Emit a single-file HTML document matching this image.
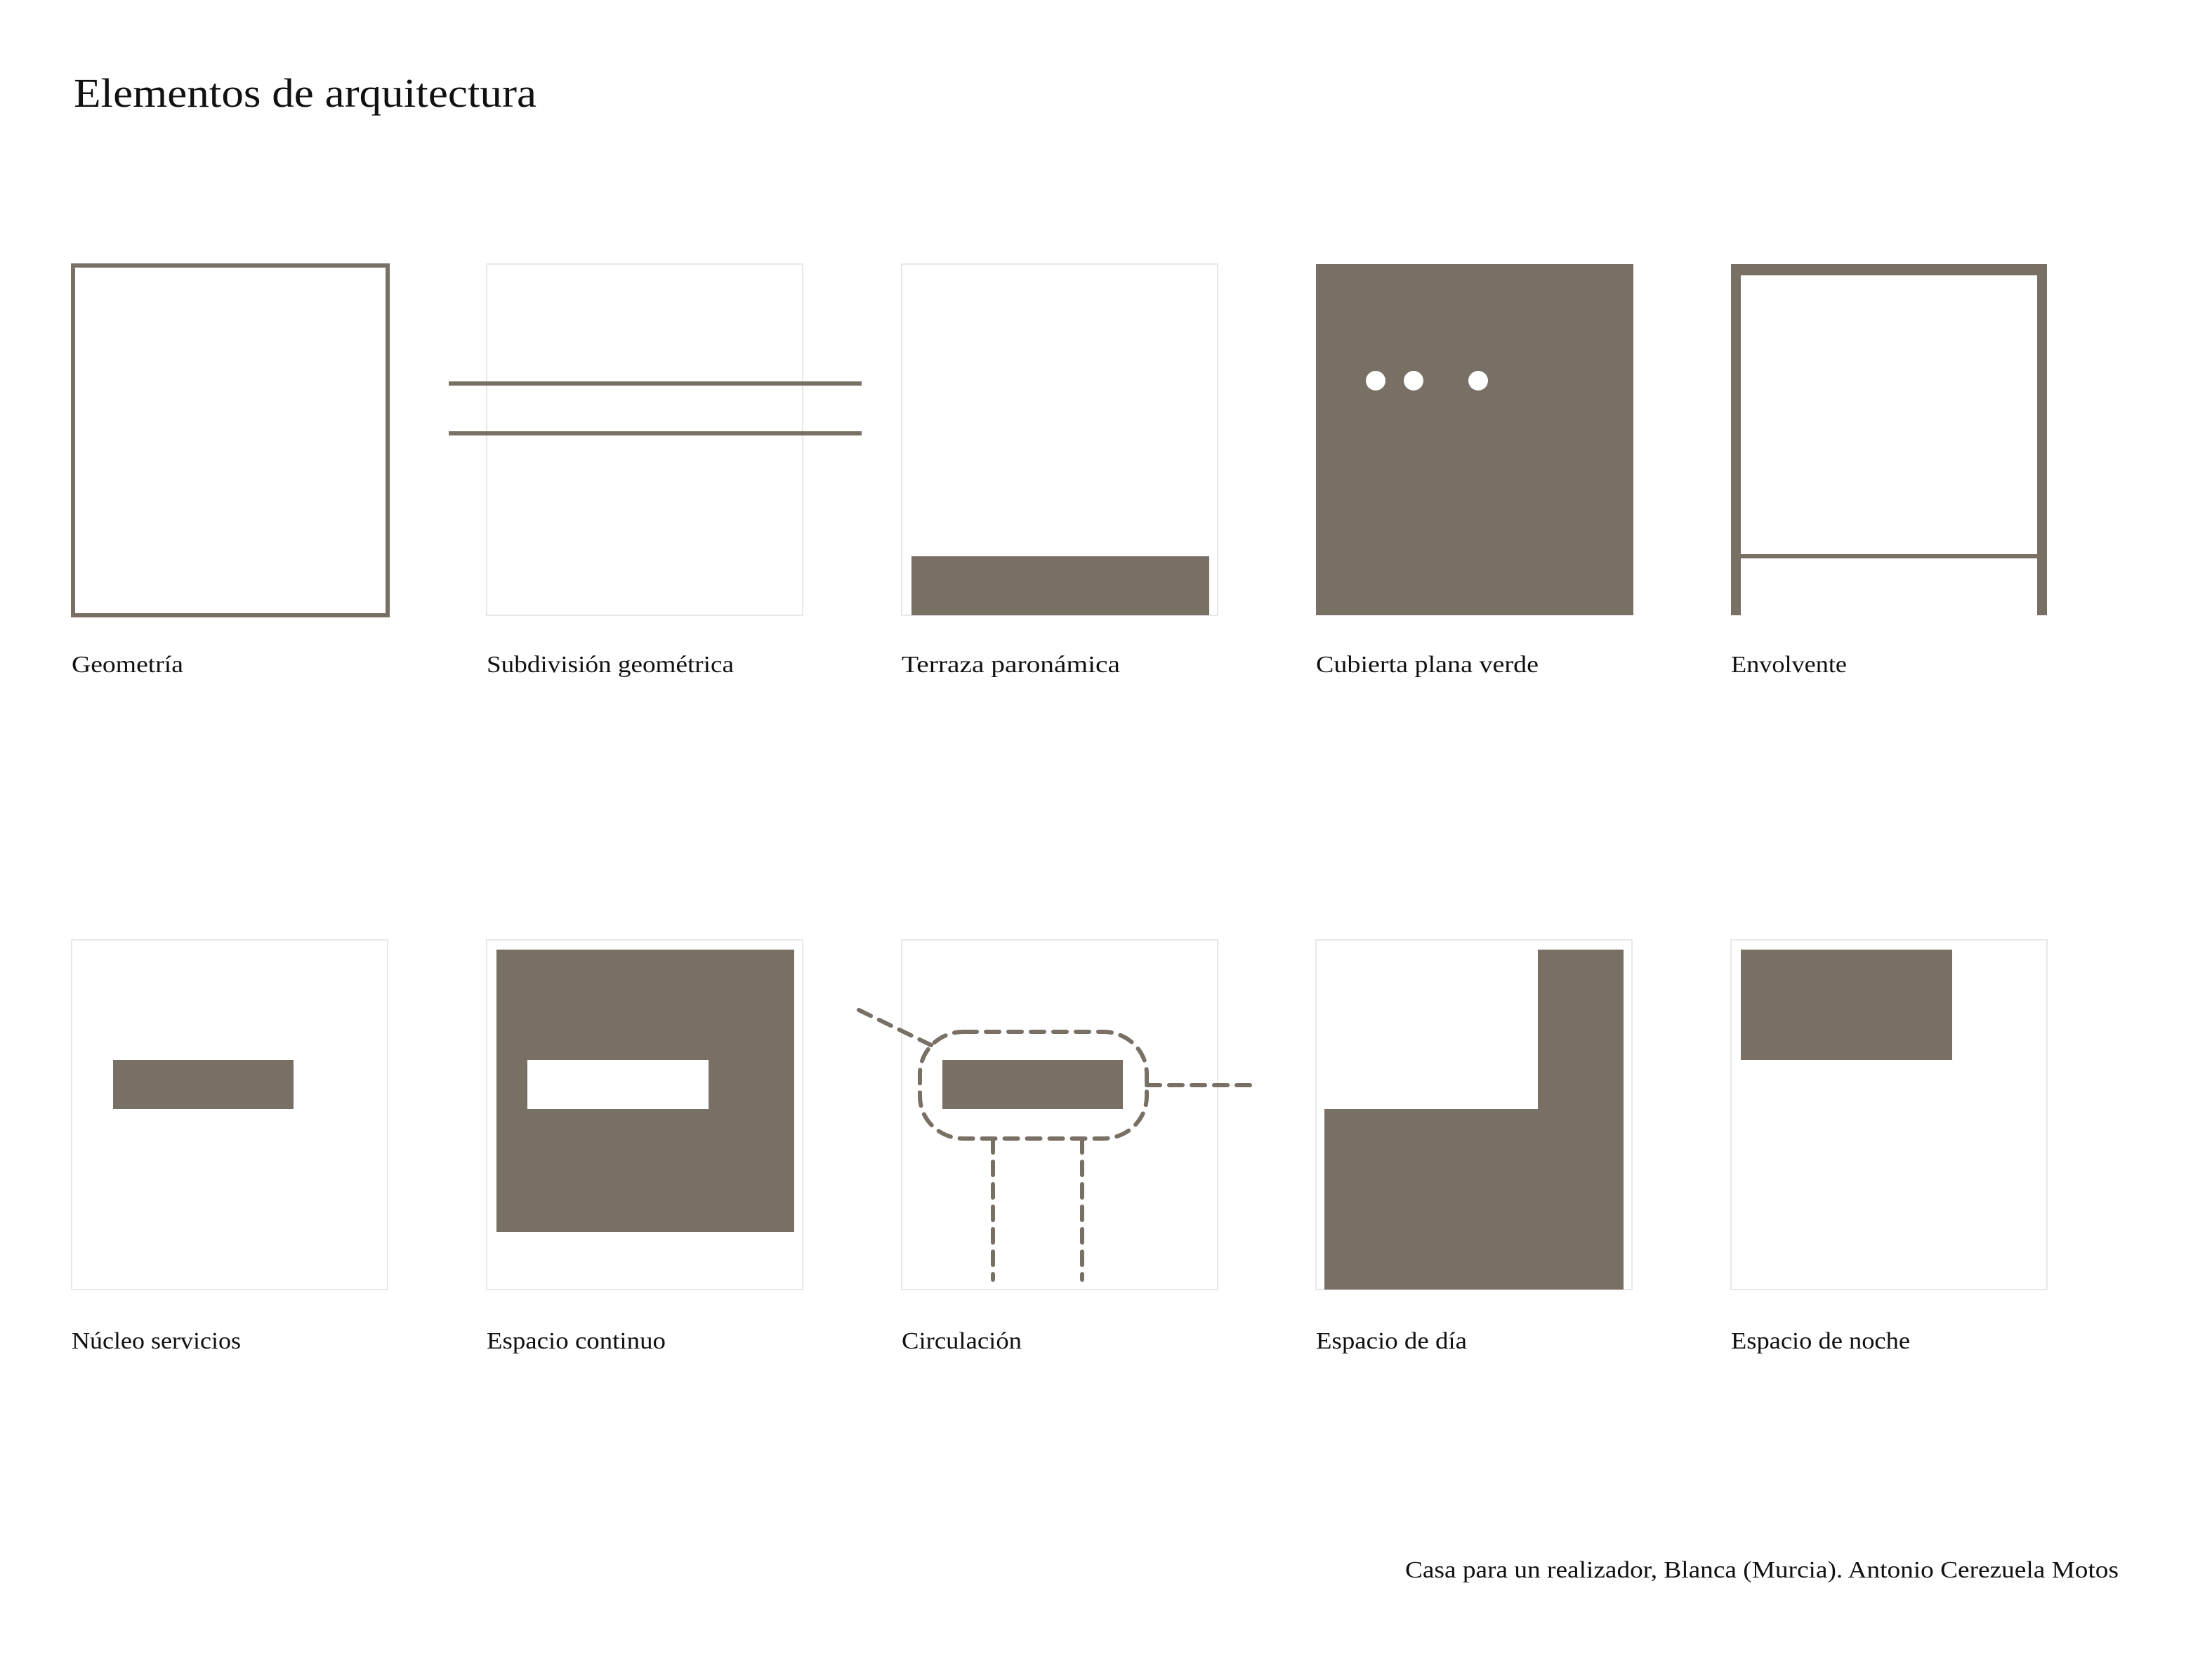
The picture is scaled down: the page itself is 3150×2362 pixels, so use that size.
<!DOCTYPE html>
<html><head><meta charset="utf-8"><style>
html,body{margin:0;padding:0;background:#fff;}
body{width:3150px;height:2362px;position:relative;overflow:hidden;font-family:"Liberation Serif","DejaVu Serif",serif;color:#111;}
</style></head><body>
<svg width="3150" height="2362" viewBox="0 0 3150 2362" xmlns="http://www.w3.org/2000/svg" style="position:absolute;left:0;top:0">
<g font-family="Liberation Serif, DejaVu Serif, serif" fill="#111">
<text x="105" y="152" font-size="58" textLength="659" lengthAdjust="spacingAndGlyphs">Elementos de arquitectura</text>
<g font-size="34">
<text x="102" y="957" textLength="159" lengthAdjust="spacingAndGlyphs">Geometría</text>
<text x="693" y="957" textLength="352" lengthAdjust="spacingAndGlyphs">Subdivisión geométrica</text>
<text x="1284" y="957" textLength="311" lengthAdjust="spacingAndGlyphs">Terraza paronámica</text>
<text x="1874" y="957" textLength="317" lengthAdjust="spacingAndGlyphs">Cubierta plana verde</text>
<text x="2465" y="957" textLength="165" lengthAdjust="spacingAndGlyphs">Envolvente</text>
<text x="102" y="1920" textLength="241" lengthAdjust="spacingAndGlyphs">Núcleo servicios</text>
<text x="693" y="1920" textLength="255" lengthAdjust="spacingAndGlyphs">Espacio continuo</text>
<text x="1284" y="1920" textLength="171" lengthAdjust="spacingAndGlyphs">Circulación</text>
<text x="1874" y="1920" textLength="215" lengthAdjust="spacingAndGlyphs">Espacio de día</text>
<text x="2465" y="1920" textLength="255" lengthAdjust="spacingAndGlyphs">Espacio de noche</text>
<text x="2001" y="2246" textLength="1016" lengthAdjust="spacingAndGlyphs">Casa para un realizador, Blanca (Murcia). Antonio Cerezuela Motos</text>
</g></g>
<g fill="none" stroke="#e8e8e8" stroke-width="2">
<rect x="693" y="376" width="450" height="500"/>
<rect x="1284" y="376" width="450" height="500"/>
<rect x="102" y="1338" width="450" height="498"/>
<rect x="693" y="1338" width="450" height="498"/>
<rect x="1284" y="1338" width="450" height="498"/>
<rect x="1874" y="1338" width="450" height="498"/>
<rect x="2465" y="1338" width="450" height="498"/>
</g>
<g fill="#786f65">
<rect x="104" y="378" width="448" height="498" fill="none" stroke="#786f65" stroke-width="6"/>
<rect x="639" y="543" width="588" height="6"/>
<rect x="639" y="614" width="588" height="6"/>
<rect x="1298" y="792" width="424" height="84"/>
<rect x="1874" y="376" width="452" height="500"/>
<circle cx="1959" cy="542" r="14" fill="#fff"/>
<circle cx="2013" cy="542" r="14" fill="#fff"/>
<circle cx="2105" cy="542" r="14" fill="#fff"/>
<rect x="2465" y="376" width="450" height="16"/>
<rect x="2465" y="376" width="14" height="500"/>
<rect x="2901" y="376" width="14" height="500"/>
<rect x="2465" y="789" width="450" height="6"/>
<rect x="161" y="1509" width="257" height="70"/>
<rect x="707" y="1352" width="424" height="402"/>
<rect x="751" y="1509" width="258" height="70" fill="#fff"/>
<rect x="1342" y="1509" width="257" height="70"/>
<path d="M2190 1352 H2312 V1836 H1886 V1579 H2190 Z"/>
<rect x="2479" y="1352" width="301" height="157"/>
</g>
<g fill="none" stroke="#786f65" stroke-width="6" stroke-linecap="round" stroke-dasharray="19 13">
<rect x="1310" y="1469" width="323" height="152" rx="62" ry="60"/>
<path d="M1223 1438 L1326 1488"/>
<path d="M1633 1545 H1782"/>
<path d="M1414 1622 V1822"/>
<path d="M1541 1622 V1822"/>
</g>
</svg>
</body></html>
